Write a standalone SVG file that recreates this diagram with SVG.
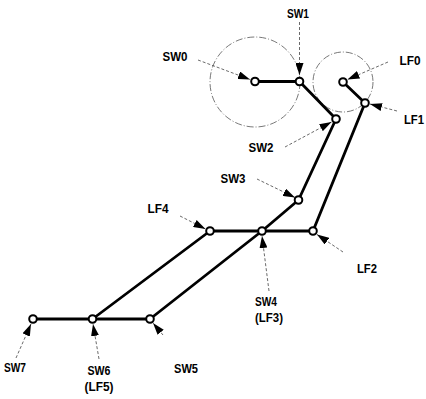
<svg xmlns="http://www.w3.org/2000/svg" width="426" height="399" viewBox="0 0 426 399">
<style>
.zone{fill:none;stroke:#555;stroke-width:0.8;stroke-dasharray:7,2,1,2}
.edge{stroke:#000;stroke-width:2.8;stroke-linecap:round;fill:none}
.node{fill:#fff;stroke:#000;stroke-width:2}
.lead{stroke:#444;stroke-width:0.8;stroke-dasharray:3,2;fill:none}
.lbl{font-family:"Liberation Sans",Arial,sans-serif;font-size:13px;font-weight:bold;fill:#000;text-anchor:middle}
</style>
<defs>
<marker id="ah" viewBox="0 0 12 8" refX="12" refY="4" markerWidth="12" markerHeight="8" orient="auto" markerUnits="userSpaceOnUse">
<path d="M0,0 L12,4 L0,8 z" fill="#000"/>
</marker>
</defs>
<rect width="426" height="399" fill="#fff"/>
<g id="zones">
<circle class="zone" cx="255" cy="82" r="45"/>
<circle class="zone" cx="343" cy="82" r="30"/>
</g>
<g id="connectors">
<line class="edge" x1="255" y1="81.5" x2="299.5" y2="81.5"/>
<line class="edge" x1="299.5" y1="81.5" x2="336" y2="119"/>
<line class="edge" x1="336" y1="119" x2="298.5" y2="200"/>
<line class="edge" x1="298.5" y1="200" x2="262" y2="231"/>
<line class="edge" x1="210" y1="231" x2="313" y2="231"/>
<line class="edge" x1="313" y1="231" x2="365" y2="103"/>
<line class="edge" x1="365" y1="103" x2="343" y2="82"/>
<line class="edge" x1="210" y1="231" x2="92.5" y2="319"/>
<line class="edge" x1="262" y1="231" x2="150" y2="319"/>
<line class="edge" x1="33" y1="319" x2="150" y2="319"/>
</g>
<g id="pointers">
<line class="lead" x1="299.5" y1="22" x2="299.5" y2="75" marker-end="url(#ah)"/>
<line class="lead" x1="198" y1="60" x2="250" y2="79.5" marker-end="url(#ah)"/>
<line class="lead" x1="388" y1="62" x2="347.5" y2="79.5" marker-end="url(#ah)"/>
<line class="lead" x1="397" y1="111" x2="370" y2="104" marker-end="url(#ah)"/>
<line class="lead" x1="285" y1="147" x2="331.5" y2="122" marker-end="url(#ah)"/>
<line class="lead" x1="257" y1="179" x2="295" y2="197.5" marker-end="url(#ah)"/>
<line class="lead" x1="180" y1="216" x2="205.5" y2="229" marker-end="url(#ah)"/>
<line class="lead" x1="269" y1="291" x2="262" y2="236" marker-end="url(#ah)"/>
<line class="lead" x1="343" y1="252" x2="317" y2="234.5" marker-end="url(#ah)"/>
<line class="lead" x1="16" y1="358" x2="31" y2="324" marker-end="url(#ah)"/>
<line class="lead" x1="99" y1="359" x2="93" y2="324" marker-end="url(#ah)"/>
<line class="lead" x1="163" y1="335" x2="153" y2="323" marker-end="url(#ah)"/>
</g>
<g id="SW0"><circle class="node" cx="255" cy="81.5" r="3.8"/><text class="lbl" x="175" y="61" textLength="25" lengthAdjust="spacingAndGlyphs">SW0</text></g>
<g id="SW1"><circle class="node" cx="299.5" cy="81.5" r="3.8"/><text class="lbl" x="298" y="18" textLength="22" lengthAdjust="spacingAndGlyphs">SW1</text></g>
<g id="SW2"><circle class="node" cx="336" cy="119" r="3.8"/><text class="lbl" x="261" y="152" textLength="25" lengthAdjust="spacingAndGlyphs">SW2</text></g>
<g id="SW3"><circle class="node" cx="298.5" cy="200" r="3.8"/><text class="lbl" x="233" y="183" textLength="25" lengthAdjust="spacingAndGlyphs">SW3</text></g>
<g id="SW4"><circle class="node" cx="262" cy="231" r="3.8"/><text class="lbl" x="266" y="306" textLength="22" lengthAdjust="spacingAndGlyphs">SW4</text><text class="lbl" x="269" y="322" textLength="28" lengthAdjust="spacingAndGlyphs">(LF3)</text></g>
<g id="SW5"><circle class="node" cx="150" cy="319" r="3.8"/><text class="lbl" x="186" y="373" textLength="24" lengthAdjust="spacingAndGlyphs">SW5</text></g>
<g id="SW6"><circle class="node" cx="92.5" cy="319" r="3.8"/><text class="lbl" x="99" y="375" textLength="23" lengthAdjust="spacingAndGlyphs">SW6</text><text class="lbl" x="99" y="391" textLength="29" lengthAdjust="spacingAndGlyphs">(LF5)</text></g>
<g id="SW7"><circle class="node" cx="33" cy="319" r="3.8"/><text class="lbl" x="15" y="372" textLength="22" lengthAdjust="spacingAndGlyphs">SW7</text></g>
<g id="LF0"><circle class="node" cx="343" cy="82" r="3.8"/><text class="lbl" x="410" y="65" textLength="21" lengthAdjust="spacingAndGlyphs">LF0</text></g>
<g id="LF1"><circle class="node" cx="365" cy="103" r="3.8"/><text class="lbl" x="414" y="124" textLength="20" lengthAdjust="spacingAndGlyphs">LF1</text></g>
<g id="LF2"><circle class="node" cx="313" cy="231" r="3.8"/><text class="lbl" x="367" y="273" textLength="20" lengthAdjust="spacingAndGlyphs">LF2</text></g>
<g id="LF4"><circle class="node" cx="210" cy="231" r="3.8"/><text class="lbl" x="158" y="213" textLength="21" lengthAdjust="spacingAndGlyphs">LF4</text></g>
</svg>
